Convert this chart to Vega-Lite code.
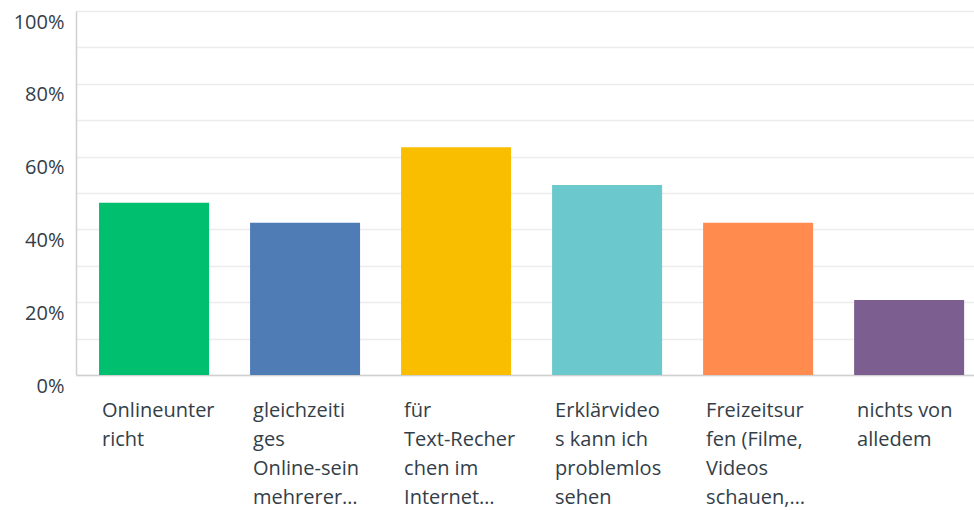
{
  "$schema": "https://vega.github.io/schema/vega-lite/v6.json",
  "autosize": {"type": "none"},
  "width": 898,
  "height": 364,
  "padding": {"left": 76, "top": 11, "right": 0, "bottom": 135},
  "background": "#ffffff",
  "config": {"view": {"stroke": null}},
  "data": {"values": [
    {"answer": "Onlineunter|richt", "pct": 47.3},
    {"answer": "gleichzeiti|ges|Online-sein|mehrerer…", "pct": 41.8},
    {"answer": "für|Text-Recher|chen im|Internet…", "pct": 62.6},
    {"answer": "Erklärvideo|s kann ich|problemlos|sehen", "pct": 52.2},
    {"answer": "Freizeitsur|fen (Filme,|Videos|schauen,…", "pct": 41.8},
    {"answer": "nichts von|alledem", "pct": 20.6}
  ]},
  "mark": {"type": "bar"},
  "encoding": {
    "x": {
      "field": "answer", "type": "nominal", "sort": null,
      "scale": {"paddingInner": 0.2715, "paddingOuter": 0.109, "align": 0.7},
      "axis": {
        "title": null, "labelAngle": 0, "ticks": false,
        "domainColor": "#d0d0d0", "domainWidth": 1.5,
        "labelExpr": "split(datum.value, '|')",
        "labelAlign": "left", "labelBaseline": "top",
        "labelOffset": -52, "labelPadding": 25,
        "labelLineHeight": 29, "labelFont": "Open Sans", "labelFontSize": 20,
        "labelColor": "#333e48", "labelBound": false, "labelOverlap": false, "labelLimit": 0
      }
    },
    "y": {
      "field": "pct", "type": "quantitative",
      "scale": {"domain": [0, 100], "nice": false},
      "axis": {
        "title": null, "values": [0, 10, 20, 30, 40, 50, 60, 70, 80, 90, 100],
        "labelExpr": "datum.value % 20 == 0 ? datum.value + '%' : ''",
        "ticks": false, "domainColor": "#d0d0d0", "domainWidth": 1.5,
        "gridColor": "#ececec", "gridWidth": 1.5,
        "labelOffset": 11, "labelPadding": 12,
        "labelFont": "Open Sans", "labelFontSize": 20, "labelColor": "#333e48"
      }
    },
    "color": {
      "field": "answer", "type": "nominal", "sort": null, "legend": null,
      "scale": {"range": ["#00bf6f", "#507cb6", "#f9be00", "#6bc8cd", "#ff8b4f", "#7d5e90"]}
    }
  }
}
